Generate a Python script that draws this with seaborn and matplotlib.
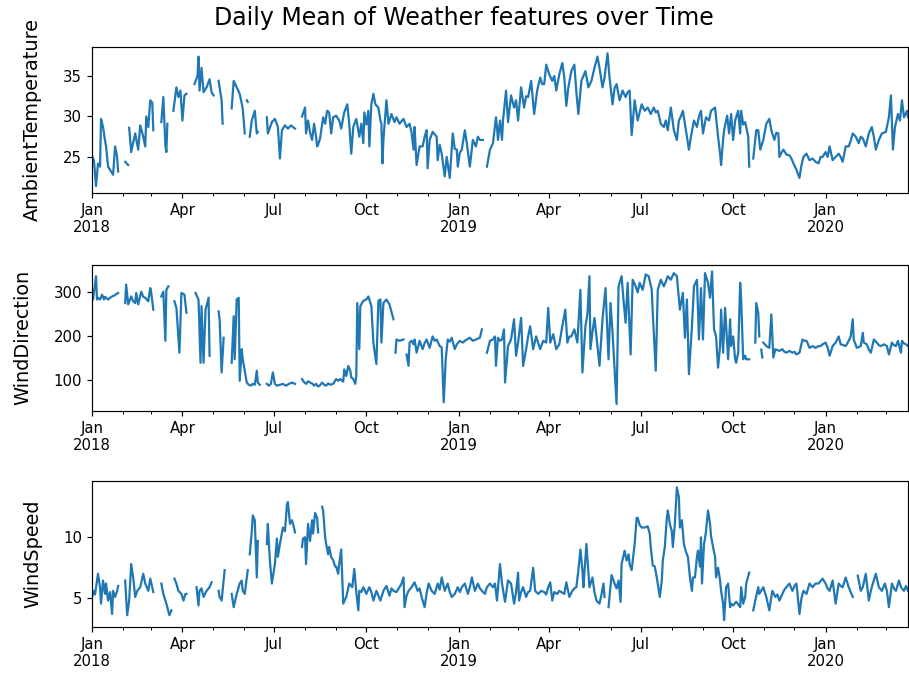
import numpy as np
import pandas as pd
import matplotlib
matplotlib.use("Agg")
import matplotlib.pyplot as plt
import matplotlib.dates as mdates
from matplotlib.ticker import FuncFormatter, MultipleLocator
import seaborn as sns

nan = np.nan

# (days since 2018-01-01, daily mean); nan marks a gap
start_date = "2018-01-01"
last_day = 812

ambient_temperature = [
    (0, 25.2), (2, 24.5), (4, 21.4), (6, 24.2), (8, 23.8), (9, 29.7), (11, 28.7), (13, 27.0), (14, 26.3),
    (16, 23.8), (18, 23.4), (21, 22.8), (23, 26.3), (25, 25.0), (26, 23.2), (30, nan),
    (33, 24.4), (36, 24.0), (37, nan),
    (37, 28.6), (39, 25.6), (43, 27.9), (46, 25.9), (48, 28.9), (51, 27.5), (53, 26.3), (54, 30.0),
    (56, 28.7), (58, 32.0), (60, 31.7), (61, 28.3), (65, nan),
    (69, 29.3), (71, 32.4), (73, 26.5), (74, 25.6), (75, 29.1), (78, nan),
    (81, 30.7), (84, 33.6), (86, 32.4), (88, 33.2), (90, 29.5), (92, 32.6), (94, 32.8), (98, nan),
    (102, 34.0), (105, 35.0), (106, 37.4), (107, 33.2), (109, 36.0), (111, 33.0), (114, 33.6),
    (117, 34.6), (119, 33.0), (121, 32.6), (124, nan),
    (126, 34.4), (129, 32.0), (130, 29.1), (135, nan),
    (139, 31.0), (141, 34.4), (144, 33.6), (147, 32.8), (150, 31.0), (152, 27.9), (153, nan),
    (154, 32.0), (155, 31.8), (156, nan),
    (157, 27.5), (159, 29.5), (162, 30.7), (164, 27.9), (165, 28.1), (170, nan),
    (174, 29.9), (175, 27.9), (179, 29.3), (182, 29.7), (185, 28.7), (187, 24.8), (189, 28.3),
    (192, 28.9), (195, 28.5), (198, 28.9), (202, 28.5), (205, nan),
    (209, 30.0), (212, 31.1), (213, 27.9), (215, 29.5), (217, 28.0), (219, 27.1), (221, 29.1),
    (223, 27.5), (224, 26.3), (225, 26.5), (227, 27.3), (230, 29.9), (232, 29.1), (234, 30.7),
    (236, 30.5), (238, 27.9), (240, 29.9), (243, 30.1), (246, 29.5), (248, 28.5), (251, 30.5),
    (254, 31.5), (256, 29.1), (258, 25.4), (260, 28.7), (263, 29.7), (266, 27.5), (268, 29.1),
    (270, 26.7), (271, 30.5), (273, 29.0), (275, 30.7), (276, 26.3), (278, 31.5), (280, 32.8),
    (282, 31.5), (285, 31.1), (287, 29.5), (288, 29.1), (289, 24.2), (290, 27.1), (293, 32.0),
    (295, 29.1), (298, 30.3), (301, 29.3), (303, 29.9), (306, 29.1), (310, 29.7), (313, 28.7),
    (316, 29.1), (318, 28.0), (320, 25.9), (321, 28.7), (323, 24.0), (326, 26.3), (329, 26.3),
    (331, 27.5), (333, 28.3), (334, 23.6), (336, 27.1), (339, 28.1), (343, 27.5), (344, 24.6),
    (346, 26.5), (348, 25.4), (351, 22.6), (353, 25.0), (356, 22.4), (359, 27.9), (361, 26.0),
    (363, 25.9), (364, 23.8), (366, 25.5), (368, 25.9), (371, 28.3), (373, 26.7), (376, 23.8),
    (379, 27.1), (382, 26.3), (384, 27.5), (386, 27.1), (389, 27.1), (391, nan),
    (393, 23.8), (396, 25.9), (399, 26.7), (402, 29.9), (403, 28.7), (404, 27.1), (406, 29.5),
    (408, 27.1), (409, 29.5), (412, 33.2), (414, 29.3), (417, 32.6), (420, 31.1), (422, 32.0),
    (424, 29.5), (427, 33.6), (430, 31.1), (432, 32.5), (434, 32.4), (437, 34.4), (440, 30.3),
    (443, 33.2), (446, 34.8), (448, 34.0), (450, 34.0), (452, 36.4), (455, 35.2), (458, 34.4),
    (460, 35.0), (462, 33.2), (465, 35.2), (468, 36.6), (470, 34.8), (472, 31.3), (474, 33.6),
    (477, 35.6), (480, 36.4), (482, 33.0), (484, 30.3), (487, 34.4), (491, 35.6), (494, 33.6),
    (497, 34.4), (500, 36.0), (503, 37.4), (505, 36.0), (508, 33.6), (510, 34.8), (513, 37.8),
    (515, 34.8), (518, 31.5), (520, 33.5), (522, 34.0), (525, 32.0), (528, 33.2), (531, 32.4),
    (533, 33.0), (535, 33.2), (537, 27.7), (540, 32.0), (543, 29.5), (547, 31.5), (550, 30.7),
    (553, 31.1), (556, 30.3), (559, 31.1), (561, 30.5), (563, 30.7), (566, 29.1), (569, 28.7),
    (571, 29.5), (573, 28.3), (576, 31.1), (579, 28.3), (582, 27.1), (584, 29.5), (586, 30.0),
    (588, 30.7), (591, 28.3), (594, 25.9), (596, 27.5), (599, 29.5), (602, 28.7), (604, 30.0),
    (606, 30.7), (608, 27.9), (611, 29.9), (614, 29.5), (616, 30.7), (618, 30.9), (620, 31.1),
    (623, 27.5), (625, 25.4), (626, 24.0), (628, 27.1), (629, 28.3), (632, 30.1), (634, 27.9),
    (636, 30.3), (638, 27.1), (640, 29.5), (643, 30.7), (645, 27.9), (646, 30.7), (648, 29.0),
    (650, 29.3), (653, 27.5), (654, 23.8), (656, nan),
    (658, 24.8), (661, 28.3), (663, 28.3), (665, 25.9), (668, 27.1), (671, 29.1), (674, 29.7),
    (676, 28.3), (679, 27.1), (681, 28.0), (683, 27.9), (684, 25.0), (686, 25.5), (688, 25.9),
    (691, 25.3), (694, 25.2), (696, 24.8), (698, 24.2), (701, 23.4), (704, 22.4), (706, 24.0),
    (708, 25.0), (711, 25.4), (714, 24.6), (717, 24.8), (720, 24.4), (723, 24.2), (725, 25.0),
    (727, 25.0), (730, 25.6), (732, 25.0), (734, 26.3), (737, 24.6), (740, 25.0), (743, 25.4),
    (745, 25.0), (747, 24.4), (750, 26.3), (753, 26.3), (755, 27.0), (757, 27.9), (760, 27.5),
    (763, 26.7), (765, 27.5), (767, 27.3), (770, 26.3), (773, 27.9), (776, 28.7), (778, 27.5),
    (780, 25.9), (783, 27.1), (786, 27.9), (790, 28.1), (793, 29.9), (795, 32.6), (797, 25.9),
    (799, 28.7), (802, 30.3), (804, 29.5), (806, 32.0), (808, 29.9), (811, 30.7), (812, 29.9),
]

wind_direction = [
    (0, 299), (1, 284), (4, 337), (5, 284), (6, 288), (8, 284), (10, 295), (12, 284), (13, 290),
    (14, 288), (16, 284), (18, 288), (20, 291), (22, 293), (24, 296), (26, 299), (30, nan),
    (33, 276), (34, 318), (36, 273), (39, 291), (41, 280), (43, 276), (44, 299), (46, 273),
    (49, 302), (51, 290), (53, 288), (56, 280), (58, 310), (59, 299), (61, 261), (65, nan),
    (69, 291), (71, 302), (73, 190), (74, 306), (76, 314), (79, nan),
    (82, 280), (84, 265), (87, 163), (89, 299), (92, 295), (94, 254), (98, nan),
    (103, 299), (106, 284), (108, 140), (109, 269), (111, 140), (113, 261), (116, 288), (117, 156), (122, nan),
    (126, 257), (127, 239), (129, 118), (131, 197), (135, nan),
    (139, 140), (141, 246), (142, 148), (144, 284), (146, 288), (147, 99), (149, 171), (150, 148),
    (152, 122), (154, 95), (156, 90), (158, 88), (160, 92), (162, 90), (164, 122), (165, 95), (167, 90), (170, nan),
    (174, 92), (176, 88), (178, 92), (180, 118), (182, 92), (184, 88), (187, 90), (190, 92),
    (193, 88), (196, 92), (199, 95), (202, 92), (205, nan),
    (209, 103), (211, 96), (213, 92), (215, 98), (217, 95), (219, 93), (221, 88), (223, 92),
    (225, 86), (227, 89), (229, 95), (231, 90), (233, 88), (235, 93), (237, 90), (240, 92),
    (243, 103), (245, 99), (247, 103), (250, 97), (251, 125), (253, 110), (255, 133), (257, 122),
    (258, 107), (260, 103), (262, 92), (263, 110), (264, 276), (266, 171), (267, 269), (270, 281),
    (273, 284), (275, 291), (278, 269), (280, 186), (283, 137), (285, 281), (287, 284), (288, 186),
    (290, 276), (293, 284), (296, 273), (300, 239), (301, nan),
    (302, 163), (303, 193), (306, 190), (310, 193), (311, nan),
    (313, 159), (315, 133), (316, 186), (318, 190), (320, 182), (321, 193), (323, 163), (326, 190),
    (329, 171), (331, 185), (333, 193), (336, 174), (339, 200), (341, 190), (343, 193), (346, 178),
    (348, 175), (350, 50), (352, 148), (354, 193), (356, 188), (358, 197), (361, 171), (363, 182),
    (366, 190), (369, 186), (371, 190), (373, 193), (376, 197), (379, 190), (382, 193), (384, 195),
    (386, 197), (388, 216), (391, nan),
    (393, 163), (396, 190), (399, 193), (401, 200), (402, 133), (404, 197), (406, 190), (408, 193),
    (410, 216), (411, 95), (414, 178), (417, 193), (420, 239), (422, 156), (424, 186), (427, 242),
    (429, 133), (432, 171), (434, 200), (436, 223), (439, 171), (442, 200), (444, 185), (446, 171),
    (449, 190), (452, 186), (454, 265), (456, 186), (459, 205), (462, 171), (465, 182), (468, 223),
    (471, 261), (473, 186), (475, 200), (477, 200), (480, 216), (483, 186), (486, 306), (488, 118),
    (491, 223), (493, 250), (495, 337), (496, 171), (498, 210), (500, 242), (503, 178), (505, 133),
    (508, 239), (511, 310), (514, 148), (516, 276), (518, 208), (522, 46), (524, 314), (527, 337),
    (529, 280), (531, 231), (533, 322), (536, 159), (538, 329), (541, 314), (543, 300), (545, 322),
    (548, 306), (551, 341), (554, 337), (557, 306), (558, 254), (561, 122), (563, 306), (566, 329),
    (569, 314), (571, 325), (573, 337), (576, 329), (579, 344), (582, 337), (585, 261), (588, 299),
    (590, 197), (592, 284), (594, 114), (597, 223), (599, 314), (602, 329), (604, 193), (606, 310),
    (608, 193), (610, 344), (613, 322), (615, 288), (617, 348), (619, 216), (621, 200), (623, 129),
    (625, 178), (626, 261), (628, 163), (630, 265), (633, 148), (635, 239), (636, 178), (638, 200),
    (640, 148), (641, 140), (643, 163), (645, 322), (646, 284), (648, 148), (650, 156), (651, 148),
    (654, 148), (657, nan),
    (660, 186), (661, 276), (663, 254), (664, 200), (665, nan),
    (666, 170), (667, 152), (668, nan),
    (668, 186), (671, 178), (674, 174), (676, 250), (678, 152), (680, 171), (684, 167), (687, 171),
    (689, 165), (691, 163), (694, 167), (697, 163), (699, 165), (701, 159), (704, 163), (707, 193),
    (709, 190), (711, 190), (714, 174), (717, 178), (720, 174), (723, 178), (725, 178), (727, 182),
    (730, 186), (732, 175), (734, 156), (737, 178), (740, 186), (743, 200), (745, 182), (748, 180),
    (750, 178), (753, 190), (755, 200), (757, 239), (758, 193), (761, 174), (763, 176), (765, 178),
    (767, 208), (768, 186), (771, 182), (773, 170), (775, 163), (778, 193), (781, 186), (783, 180),
    (785, 178), (788, 182), (791, 178), (793, 159), (796, 186), (798, 180), (800, 178), (802, 190),
    (805, 163), (806, 190), (808, 184), (810, 182), (812, 178),
]

wind_speed = [
    (0, 5.1), (2, 5.6), (3, 5.3), (6, 7.0), (8, 5.9), (9, 4.55), (11, 6.45), (13, 5.35), (14, 6.2),
    (16, 4.8), (18, 5.5), (20, 3.7), (21, 5.6), (23, 5.1), (25, 5.6), (26, 6.0), (30, nan),
    (33, 6.45), (35, 3.6), (37, 4.8), (39, 7.8), (41, 6.7), (43, 5.1), (45, 5.6), (48, 5.9),
    (51, 7.0), (53, 6.2), (56, 5.6), (58, 6.6), (61, 5.5), (65, nan),
    (69, 6.2), (71, 5.35), (74, 4.55), (77, 3.6), (79, 4.0), (80, nan),
    (82, 6.6), (84, 6.2), (86, 5.6), (89, 5.35), (91, 4.8), (93, 5.35), (94, 5.35), (98, nan),
    (104, 5.9), (106, 4.4), (107, 5.6), (109, 5.8), (111, 5.1), (114, 5.6), (117, 5.9), (119, 6.3), (122, nan),
    (126, 5.6), (127, 5.1), (129, 4.8), (132, 7.3), (135, nan),
    (139, 5.35), (141, 4.26), (144, 5.35), (147, 6.2), (149, 6.45), (150, 5.6), (152, 5.35), (155, 7.3), (156, nan),
    (157, 8.6), (159, 10.5), (160, 11.8), (162, 11.4), (164, 6.7), (165, 9.7), (170, nan),
    (174, 9.45), (175, 11.1), (177, 8.1), (179, 6.2), (182, 7.8), (184, 9.9), (185, 8.4), (187, 9.45),
    (190, 10.8), (192, 10.5), (194, 12.7), (195, 12.9), (197, 11.1), (199, 11.4), (201, 10.8), (202, 10.4), (205, nan),
    (209, 9.2), (210, 9.9), (212, 10.0), (213, 7.8), (215, 11.1), (217, 9.7), (219, 11.4), (220, 10.3),
    (222, 12.0), (224, 11.6), (225, 10.4), (227, nan),
    (229, 12.5), (230, 12.2), (232, 10.0), (233, 9.45), (235, 8.6), (236, 9.2), (238, 8.4), (240, 8.1),
    (242, 7.6), (243, 7.6), (245, 7.0), (246, 7.8), (248, 9.0), (250, 4.55), (253, 5.1), (256, 6.2),
    (259, 5.9), (261, 7.4), (263, 5.5), (265, 4.0), (266, 5.6), (268, 5.5), (270, 5.9), (273, 5.35),
    (276, 5.9), (278, 5.5), (280, 4.8), (283, 5.6), (285, 5.2), (287, 4.8), (290, 5.6), (293, 6.0),
    (296, 5.2), (298, 5.8), (300, 5.6), (303, 5.5), (306, 5.9), (308, 6.2), (310, 6.7), (311, 4.26),
    (313, 5.2), (315, 5.6), (318, 5.9), (321, 6.3), (324, 5.6), (326, 5.8), (328, 5.1), (331, 4.26),
    (333, 5.4), (335, 6.2), (338, 5.6), (341, 5.35), (344, 6.2), (346, 5.7), (348, 6.7), (351, 5.6),
    (354, 6.2), (356, 5.5), (358, 5.1), (361, 5.35), (364, 5.9), (366, 5.5), (368, 5.9), (371, 6.2),
    (374, 5.35), (376, 5.9), (378, 6.7), (381, 5.6), (384, 6.2), (386, 5.8), (388, 5.6), (391, 5.35),
    (393, 5.9), (396, 6.2), (399, 5.9), (401, 6.2), (403, 4.8), (406, 7.8), (408, 6.2), (411, 4.7),
    (414, 6.45), (417, 6.2), (420, 4.55), (422, 5.5), (424, 7.1), (425, 4.8), (427, 5.5), (429, 5.9),
    (432, 5.1), (434, 5.5), (436, 5.6), (439, 7.5), (441, 5.6), (444, 5.35), (447, 5.6), (450, 5.5),
    (452, 5.3), (454, 5.9), (456, 6.3), (458, 4.8), (460, 5.5), (463, 5.35), (465, 5.6), (467, 5.5),
    (470, 5.35), (472, 6.3), (475, 5.1), (478, 5.6), (480, 5.8), (482, 5.9), (484, 7.3), (486, 9.0),
    (488, 7.3), (489, 5.9), (492, 9.45), (495, 5.9), (498, 6.7), (500, 5.5), (502, 4.8), (505, 4.55),
    (507, 5.3), (509, 6.2), (510, 5.1), (512, nan),
    (514, 4.26), (517, 6.9), (520, 6.2), (522, 5.8), (524, 6.45), (526, 4.7), (527, 7.8), (530, 8.9),
    (532, 8.1), (534, 8.6), (535, 7.8), (537, 7.3), (540, 9.45), (542, 11.6), (543, 11.6), (545, 11.0),
    (547, 10.8), (550, 10.8), (553, 10.9), (555, 10.3), (556, 9.2), (558, 7.7), (560, 7.6), (562, 6.7),
    (565, 5.1), (567, 6.45), (568, 8.1), (570, 9.2), (572, 11.6), (573, 12.2), (575, 11.1), (577, 10.5),
    (578, 9.2), (580, 11.1), (582, 14.1), (584, 13.3), (585, 10.8), (587, 11.4), (589, 9.45), (591, 8.8),
    (593, 8.4), (595, 6.7), (597, 5.6), (598, 6.7), (600, 6.7), (602, 8.4), (603, 8.9), (605, 7.6),
    (606, 10.0), (607, 6.2), (609, 9.45), (610, 9.9), (611, 10.5), (613, 12.2), (615, 11.1), (616, 10.1),
    (618, 9.2), (620, 8.4), (621, 6.7), (623, 7.5), (625, 6.45), (626, 5.6), (628, 4.55), (629, 3.2),
    (631, 5.9), (633, 6.2), (635, 4.26), (636, 4.55), (638, 4.4), (641, 4.7), (643, 4.5), (645, 4.26),
    (646, 5.9), (648, 4.55), (650, 5.1), (651, 6.2), (654, 7.1), (656, nan),
    (658, 4.0), (660, 4.8), (663, 5.9), (664, 5.35), (668, 5.9), (671, 5.1), (674, 4.0), (677, 5.6),
    (680, 5.1), (682, 5.3), (684, 4.8), (687, 5.35), (689, 5.7), (691, 5.9), (694, 6.2), (697, 5.6),
    (699, 6.0), (701, 6.2), (704, 3.7), (706, 5.0), (708, 5.6), (711, 5.35), (714, 6.2), (717, 5.9),
    (720, 6.2), (723, 6.2), (725, 6.4), (727, 6.6), (730, 6.2), (732, 5.8), (734, 5.6), (737, 6.45),
    (740, 4.55), (743, 6.2), (745, 6.0), (747, 5.9), (750, 6.7), (753, 5.9), (757, 5.1), (759, nan),
    (762, 6.85), (765, 5.6), (767, 5.9), (770, 7.0), (773, 4.8), (775, 5.6), (777, 6.2), (780, 7.0),
    (783, 5.9), (786, 5.6), (789, 6.2), (791, 5.6), (793, 4.26), (796, 6.2), (798, 5.8), (800, 5.6),
    (803, 6.45), (805, 5.9), (808, 5.6), (810, 6.0), (812, 5.6),
]

features = {
    "AmbientTemperature": ambient_temperature,
    "WindDirection": wind_direction,
    "WindSpeed": wind_speed,
}
y_steps = [5, 100, 5]


def to_frame(points, name):
    """Turn (day, value) pairs into a frame with one id per unbroken run."""
    df = pd.DataFrame(points, columns=["day", name])
    df["date"] = pd.Timestamp(start_date) + pd.to_timedelta(df["day"], unit="D")
    df["segment"] = df[name].isna().cumsum()
    return df.dropna()


def month_label(x, pos):
    d = mdates.num2date(x)
    if d.month == 1:
        return f"Jan\n{d.year}"
    return d.strftime("%b")


def plot_feature(ax, df, col, step):
    sns.lineplot(data=df, x="date", y=col, units="segment", estimator=None,
                 color="#1f77b4", linewidth=1.6, ax=ax)
    t0 = pd.Timestamp(start_date)
    ax.set_xlim(t0, t0 + pd.Timedelta(days=last_day))
    ax.xaxis.set_major_locator(mdates.MonthLocator(bymonth=[1, 4, 7, 10]))
    ax.xaxis.set_minor_locator(mdates.MonthLocator())
    ax.xaxis.set_major_formatter(FuncFormatter(month_label))
    ax.yaxis.set_major_locator(MultipleLocator(step))
    ax.set_xlabel("")
    ax.set_ylabel(col, fontsize=13.9, labelpad=15)
    ax.tick_params(which="major", labelsize=10.7, length=3.75, width=0.85)
    ax.tick_params(which="minor", length=2.1, width=0.7)
    for lab in ax.get_xticklabels():
        lab.set_horizontalalignment("center")
    for sp in ax.spines.values():
        sp.set_linewidth(0.85)


def main():
    fig = plt.figure(figsize=(9.09, 6.85), dpi=100)
    bottoms = [0.7187, 0.4004, 0.0851]
    for (col, points), step, b in zip(features.items(), y_steps, bottoms):
        ax = fig.add_axes([0.1012, b, 0.8977, 0.2131])
        plot_feature(ax, to_frame(points, col), col, step)
    fig.text(0.51, 0.974, "Daily Mean of Weather features over Time",
             ha="center", va="center", fontsize=17)
    fig.savefig("out.png", dpi=100)


if __name__ == "__main__":
    main()
